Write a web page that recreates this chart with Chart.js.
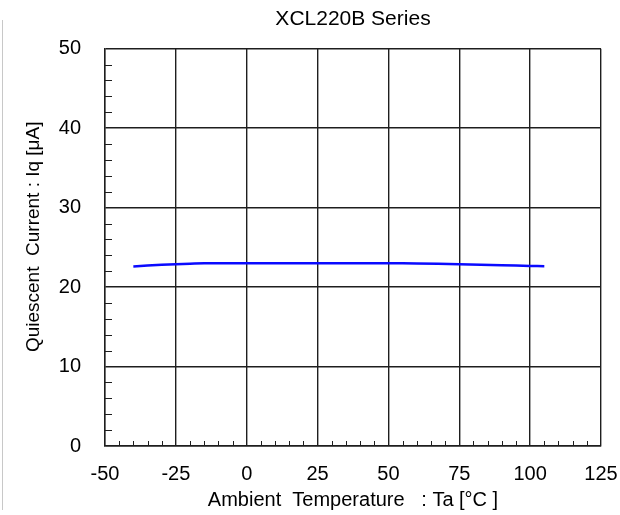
<!DOCTYPE html>
<html>
<head>
<meta charset="utf-8">
<script src="https://cdn.jsdelivr.net/npm/chart.js@4.4.1/dist/chart.umd.min.js"></script>
<style>
  html, body { margin: 0; padding: 0; background: #fff; }
  #wrap { position: relative; width: 620px; height: 515px; }
  #edge { position: absolute; left: 2px; top: 20px; width: 1px; height: 490px; background: #c8c8c8; }
</style>
</head>
<body>
<div id="wrap">
  <div id="edge"></div>
  <canvas id="myChart" width="620" height="515"></canvas>
</div>
<script>
// data
const tempC = [-40, -30, -20, -15, 0, 25, 50, 60, 75, 90, 100, 105];
const iqMicroA = [22.6, 22.8, 22.95, 23.0, 23.0, 23.0, 23.0, 22.98, 22.88, 22.75, 22.66, 22.63];

const xTicks = [-50, -25, 0, 25, 50, 75, 100, 125];
const yTicks = [0, 10, 20, 30, 40, 50];

const gridColor = '#1e1e1e';
const fontFamily = "'Liberation Sans', Arial, sans-serif";

// small inward ticks between the grid lines
const minorTicks = {
    id: 'minorTicks',
    afterDatasetsDraw(chart) {
        const { ctx, scales: { x, y } } = chart;
        ctx.save();
        ctx.strokeStyle = gridColor;
        ctx.lineWidth = 1;
        ctx.beginPath();
        for (let v = 0; v < 50; v += 2) {
            if (v % 10 === 0) continue;
            const py = Math.round(y.getPixelForValue(v)) + 0.5;
            ctx.moveTo(x.left, py);
            ctx.lineTo(x.left + 7, py);
        }
        for (let v = -50; v < 125; v += 5) {
            if (v % 25 === 0) continue;
            const px = Math.round(x.getPixelForValue(v)) + 0.5;
            ctx.moveTo(px, y.bottom);
            ctx.lineTo(px, y.bottom - 5);
        }
        ctx.stroke();
        ctx.restore();
    }
};

const data = {
    datasets: [{
        label: 'Iq',
        data: tempC.map((t, i) => ({ x: t, y: iqMicroA[i] })),
        borderColor: '#0a0aff',
        borderWidth: 2.5,
        pointRadius: 0,
        tension: 0.3,
        showLine: true,
        fill: false
    }]
};

const config = {
    type: 'scatter',
    data,
    options: {
        responsive: false,
        animation: false,
        layout: { padding: { left: 0, right: 19, top: 0, bottom: 0 } },
        plugins: {
            legend: { display: false },
            tooltip: { enabled: false },
            title: {
                display: true,
                text: 'XCL220B Series',
                fullSize: false,
                color: '#000',
                font: { family: fontFamily, size: 21, weight: 'normal' },
                padding: { top: 7, bottom: 16.5 }
            }
        },
        scales: {
            x: {
                type: 'linear',
                min: -50,
                max: 125,
                afterBuildTicks: (s) => { s.ticks = xTicks.map(v => ({ value: v })); },
                afterFit: (s) => {
                    s.height = 69;
                    s.paddingLeft = 0;
                    s.paddingRight = 0;
                },
                grid: { color: gridColor, lineWidth: 1.4, drawTicks: false },
                border: { color: gridColor, width: 1.4 },
                ticks: {
                    color: '#000',
                    padding: 16,
                    maxRotation: 0,
                    font: { family: fontFamily, size: 20 }
                },
                title: {
                    display: true,
                    text: 'Ambient  Temperature   : Ta [°C ]',
                    color: '#000',
                    font: { family: fontFamily, size: 20 },
                    padding: { top: 0, bottom: 2.5 }
                }
            },
            y: {
                type: 'linear',
                min: 0,
                max: 50,
                afterBuildTicks: (s) => { s.ticks = yTicks.map(v => ({ value: v })); },
                afterFit: (s) => {
                    s.width = 105;
                    s.paddingTop = 0;
                    s.paddingBottom = 0;
                },
                grid: { color: gridColor, lineWidth: 1.4, drawTicks: false },
                border: { color: gridColor, width: 1.4 },
                ticks: {
                    color: '#000',
                    padding: 24,
                    font: { family: fontFamily, size: 20 }
                },
                title: {
                    display: true,
                    text: '    Quiescent  Current : Iq [μA]',
                    color: '#000',
                    font: { family: fontFamily, size: 19 },
                    padding: { top: 22, bottom: 0 }
                }
            }
        }
    },
    plugins: [minorTicks]
};

const myChart = new Chart(document.getElementById('myChart'), config);
</script>
</body>
</html>
